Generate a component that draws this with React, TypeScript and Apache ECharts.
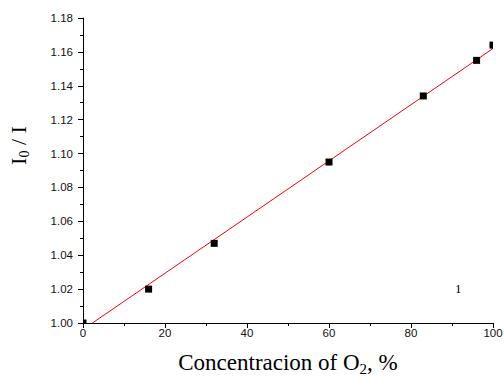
import React, { useEffect, useRef } from "react";
import * as echarts from "echarts";

const concentration = [0, 16, 32, 60, 83, 96, 100];
const ratio = [1.0, 1.02, 1.047, 1.095, 1.134, 1.155, 1.164];
const fitLine = [
  [2.3, 1.0],
  [100, 1.162],
];
const xTicks = { min: 0, max: 100, interval: 20 };
const yTicks = { min: 1.0, max: 1.18, interval: 0.02 };

export default function App() {
  const ref = useRef<HTMLDivElement>(null);
  useEffect(() => {
    const chart = echarts.init(ref.current!, undefined, { renderer: "svg" });
    const tickFont = { fontFamily: "Liberation Sans", fontSize: 11.5, color: "#111" };
    chart.setOption({
      animation: false,
      backgroundColor: "#fff",
      grid: { left: 83, right: 11, top: 18, bottom: 53, outerBoundsMode: "none", containLabel: false },
      xAxis: {
        type: "value",
        min: xTicks.min,
        max: xTicks.max,
        interval: xTicks.interval,
        name: "Concentracion of O{s|2}, %",
        nameLocation: "middle",
        nameGap: 26,
        nameTextStyle: {
          fontFamily: "Liberation Serif",
          fontSize: 23,
          color: "#000",
          rich: { s: { fontFamily: "Liberation Serif", fontSize: 15, verticalAlign: "bottom", padding: [12, 0, 0, 0] } },
        },
        axisLine: { lineStyle: { color: "#000", width: 1 } },
        axisTick: { inside: false, length: 5, lineStyle: { color: "#000" } },
        minorTick: { show: true, splitNumber: 2, length: 3, lineStyle: { color: "#000" } },
        axisLabel: { ...tickFont, margin: 4 },
        splitLine: { show: false },
      },
      yAxis: {
        type: "value",
        min: yTicks.min,
        max: yTicks.max,
        interval: yTicks.interval,
        name: "I{s|0} / I",
        nameLocation: "middle",
        nameRotate: 90,
        nameGap: 52,
        nameTextStyle: {
          fontFamily: "Liberation Serif",
          fontSize: 22,
          color: "#000",
          padding: [0, 0, 0, 50],
          rich: { s: { fontFamily: "Liberation Serif", fontSize: 14, verticalAlign: "bottom", padding: [12, 0, 0, 0] } },
        },
        axisLine: { show: true, lineStyle: { color: "#000", width: 1 } },
        axisTick: { show: true, inside: false, length: 5, lineStyle: { color: "#000" } },
        minorTick: { show: true, splitNumber: 2, length: 3, lineStyle: { color: "#000" } },
        axisLabel: { ...tickFont, margin: 10, formatter: (v: number) => v.toFixed(2) },
        splitLine: { show: false },
      },
      series: [
        {
          type: "line",
          data: fitLine,
          symbol: "none",
          lineStyle: { color: "#ff0000", width: 1 },
          z: 2,
        },
        {
          type: "custom",
          data: concentration.map((c, i) => [c, ratio[i]]),
          clip: true,
          z: 3,
          renderItem: (params: any, api: any) => {
            const p = api.coord([api.value(0), api.value(1)]);
            return {
              type: "rect",
              shape: { x: p[0] - 3.5, y: p[1] - 3.5, width: 7, height: 7 },
              style: { fill: "#000" },
            };
          },
        },
      ],
      graphic: [
        {
          type: "text",
          left: 455,
          top: 282,
          style: { text: "1", fontFamily: "Liberation Serif", fontSize: 13, fill: "#000" },
        },
      ],
    });
    return () => chart.dispose();
  }, []);
  return <div ref={ref} style={{ position: "fixed", left: 0, top: 0, width: 504, height: 376 }} />;
}
